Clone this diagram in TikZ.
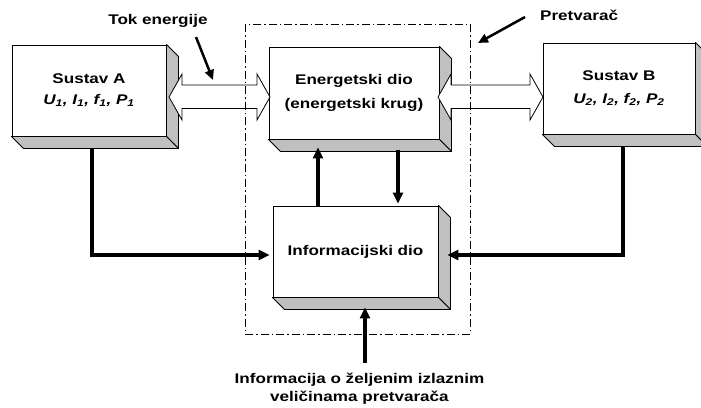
\documentclass[tikz,border=0pt]{standalone}
\usepackage{fontspec}
\setmainfont{Liberation Sans}[FakeStretch=1.22]
\usetikzlibrary{arrows.meta,calc}
\definecolor{panelgray}{RGB}{192,192,192}
\begin{document}
\begin{tikzpicture}[x=1pt,y=-1pt,
  front/.style={draw=black,line width=0.9pt,fill=white,inner sep=0pt,align=center,
    font=\fontsize{14}{21}\selectfont\bfseries},
  side/.style={draw=black,line width=0.9pt,fill=panelgray,line join=round},
  darrow/.style={draw=black,line width=0.8pt,fill=white,line join=miter},
  thickarrow/.style={line width=3.2pt,-{Triangle[length=11pt,width=10pt]}},
  labarrow/.style={line width=2.5pt,-{Triangle[length=10pt,width=9pt]}},
  lbl/.style={inner sep=0pt,font=\fontsize{14}{17}\selectfont\bfseries},
  conv/.style={line width=0.9pt,dash pattern=on 8pt off 3pt on 1.5pt off 3pt}]
\useasboundingbox (0,0) rectangle (701,407);

% front faces
\node[front,minimum width=154pt,minimum height=91pt] (A) at (89,90.5)
  {Sustav A\\\itshape U\textsubscript{1}, I\textsubscript{1}, f\textsubscript{1}, P\textsubscript{1}};
\node[front,minimum width=170pt,minimum height=92pt,font=\fontsize{14}{24}\selectfont\bfseries] (E) at (354,93)
  {Energetski dio\\(energetski krug)};
\node[front,minimum width=152pt,minimum height=91pt,font=\fontsize{14}{23}\selectfont\bfseries] (B) at (619,88.5)
  {Sustav B\\\itshape U\textsubscript{2}, I\textsubscript{2}, f\textsubscript{2}, P\textsubscript{2}};
\node[front,minimum width=165pt,minimum height=91pt] (I) at (355.5,251.5)
  {Informacijski dio};

% 3D side panels
\foreach \n in {A,E,B,I}{
  \draw[side] (\n.north east) -- ++(12,12) -- ($(\n.south east)+(12,12)$) -- (\n.south east) -- cycle;
  \draw[side] (\n.south west) -- ++(12,12) -- ($(\n.south east)+(12,12)$) -- (\n.south east) -- cycle;
}

% energy flow double arrows
\draw[darrow] (169,97) -- (182,74) -- (182,85) -- (257,85) -- (257,74) -- (270,97)
  -- (257,120) -- (257,108.5) -- (182,108.5) -- (182,120) -- cycle;
\draw[darrow] (438,97) -- (451,74) -- (451,85) -- (530,85) -- (530,74) -- (543,97)
  -- (530,120) -- (530,108.5) -- (451,108.5) -- (451,120) -- cycle;

% information arrows
\coordinate (a1) at ([xshift=3pt,yshift=-12pt]A.south);
\coordinate (b1) at ([xshift=4pt,yshift=-12pt]B.south);
\coordinate (u1) at ([xshift=-37.5pt]I.north);
\coordinate (eb) at ([yshift=-8pt]E.south);
\coordinate (d1) at ([xshift=44pt,yshift=-11pt]E.south);
\coordinate (ib) at ([xshift=9.5pt,yshift=-10pt]I.south);
\coordinate (ia) at (365,363);

\draw[thickarrow,shorten >=3pt] (a1) |- ([yshift=-3.5pt]I.west);
\draw[thickarrow] (b1) |- ([xshift=9pt,yshift=-3.5pt]I.east);
\draw[thickarrow] (u1) -- (u1 |- eb);
\draw[thickarrow,shorten >=2pt] (d1) -- (d1 |- I.north);
\draw[thickarrow] (ia) -- (ib);

% converter boundary
\draw[conv] (245,24) rectangle (470,334);

% labels
\node[lbl,anchor=base] (tok) at (158,24) {Tok energije};
\node[lbl,anchor=base west] (pre) at (540,20) {Pretvarač};
\node[lbl,align=center,font=\fontsize{14}{17.7}\selectfont\bfseries] (info) at (359.5,389)
  {Informacija o željenim izlaznim\\veličinama pretvarača};

\coordinate (ta) at (196,37);
\coordinate (tb) at (213,80);
\coordinate (pa) at (525,17);
\coordinate (pb) at (478,43);
\draw[labarrow] (ta) -- (tb);
\draw[labarrow] (pa) -- (pb);
\end{tikzpicture}
\end{document}
